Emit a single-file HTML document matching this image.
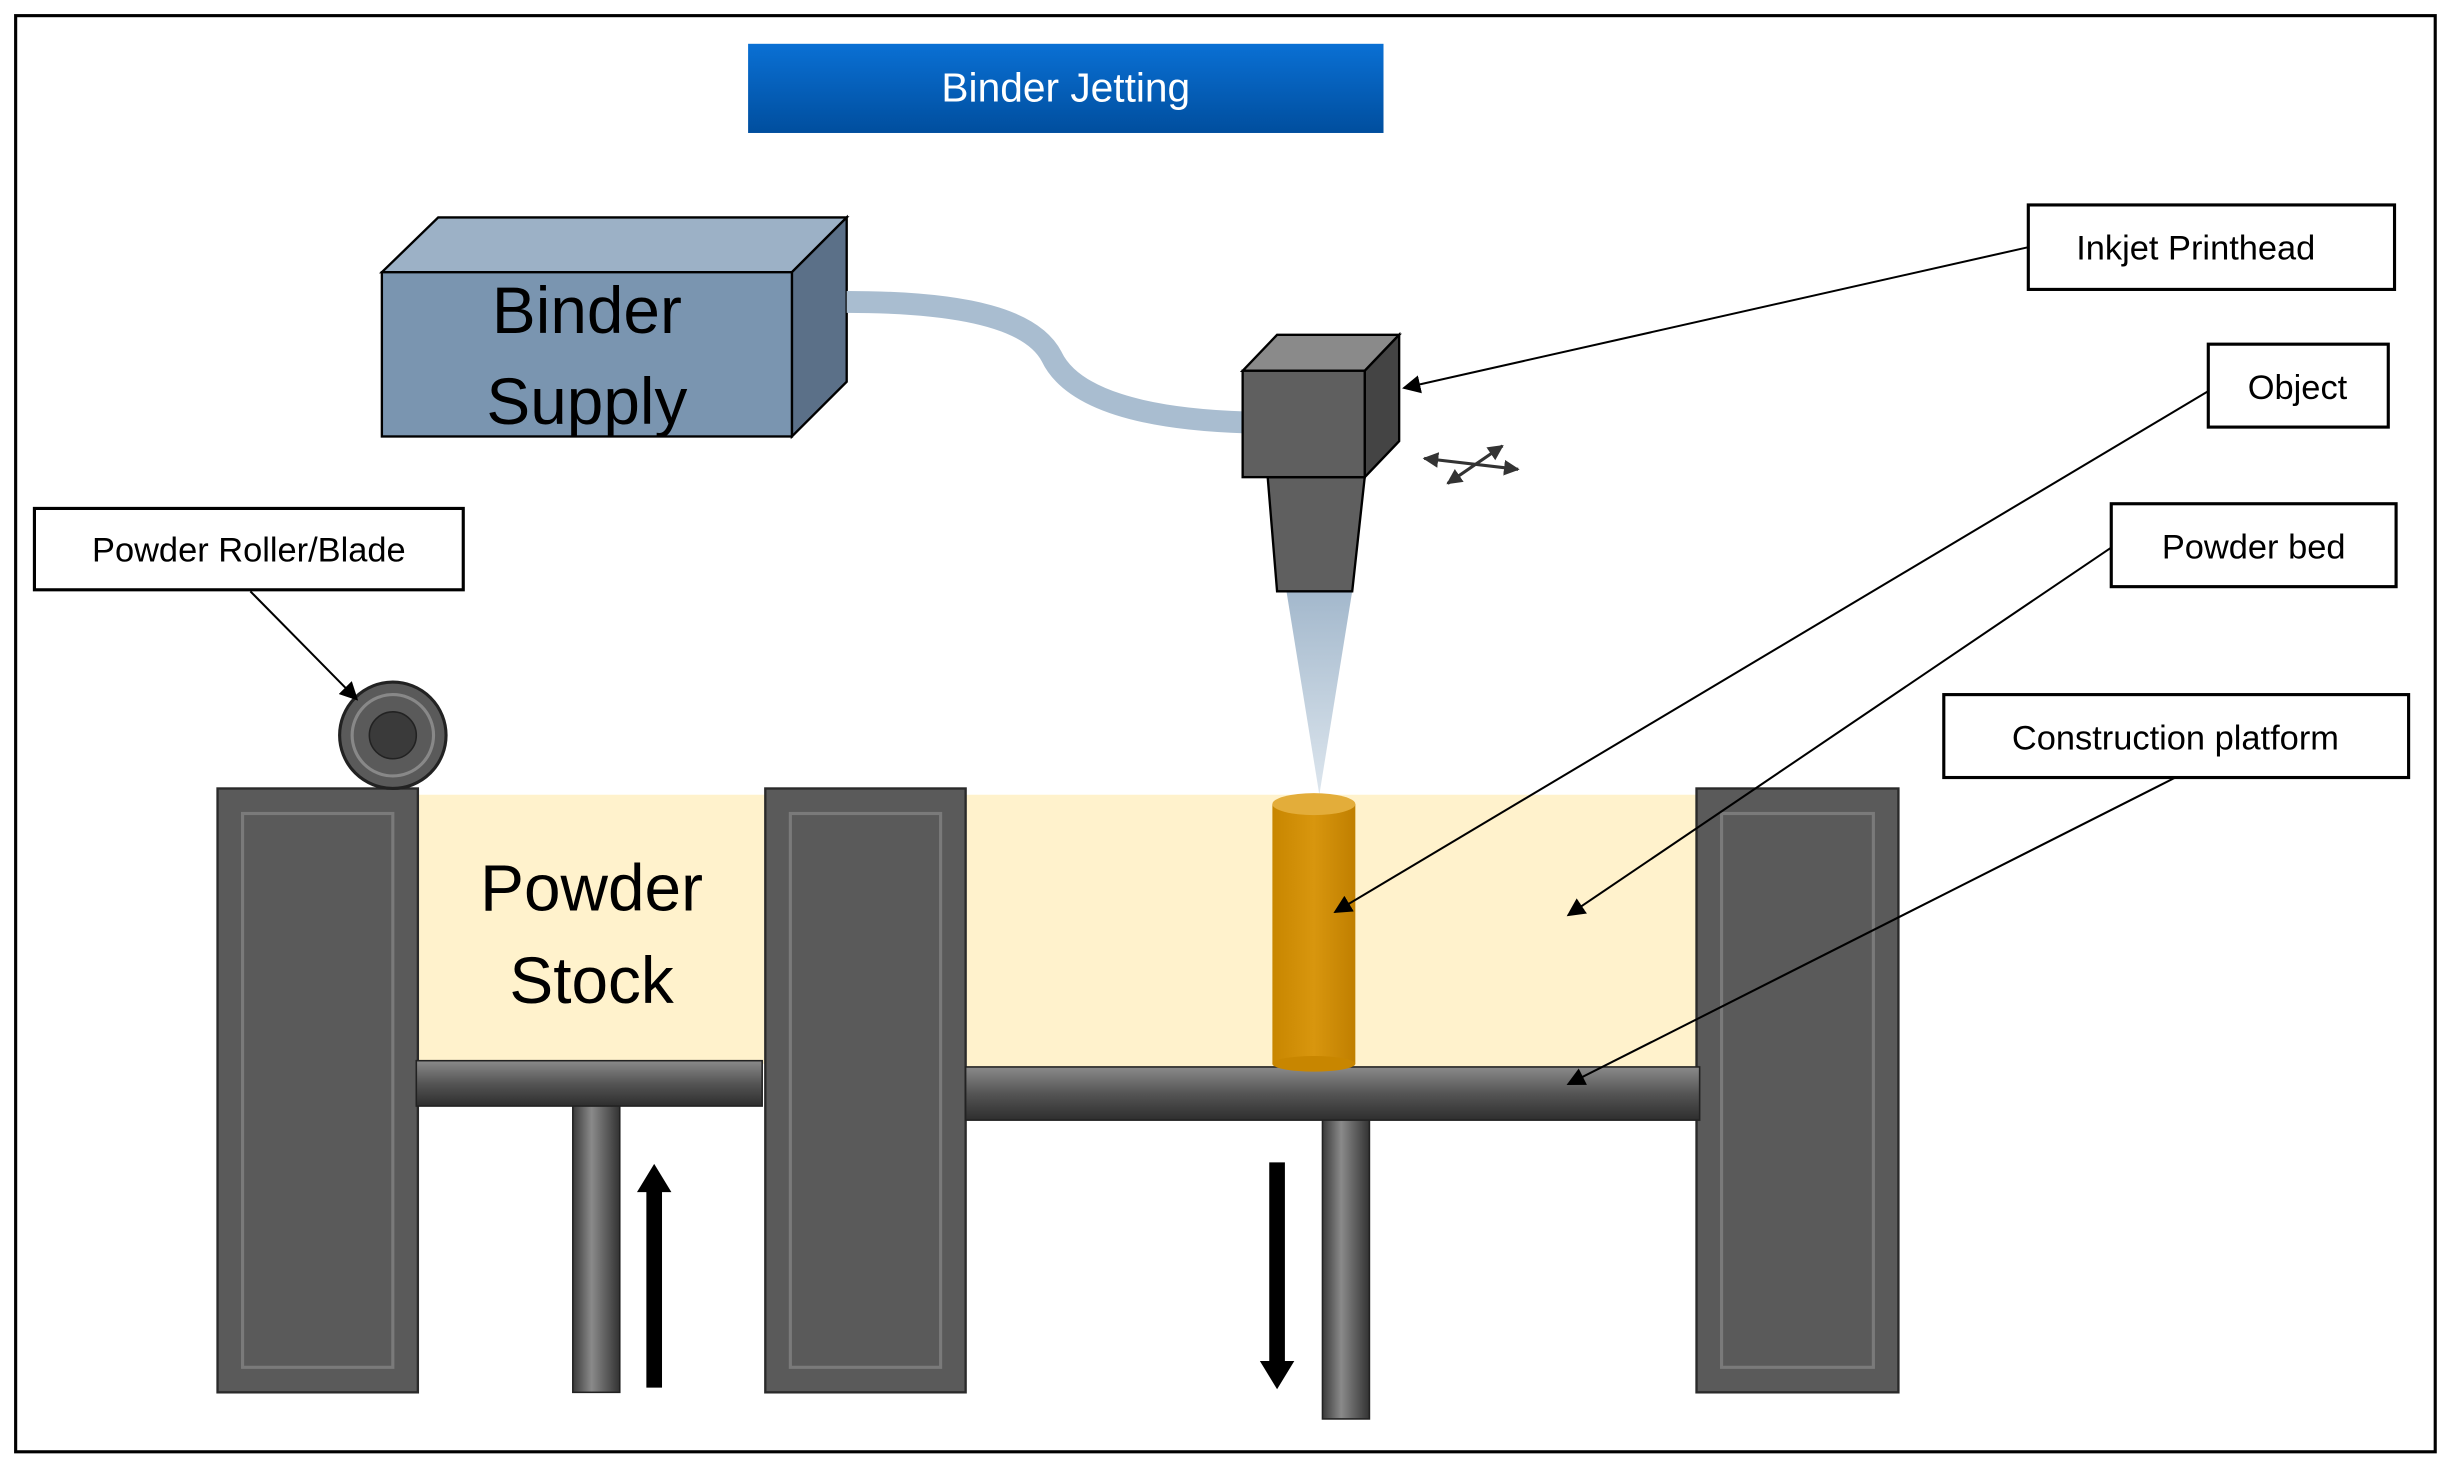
<!DOCTYPE html>
<html><head><meta charset="utf-8"><style>html,body{margin:0;padding:0;background:#fff}svg{display:block}text{font-family:"Liberation Sans","DejaVu Sans",sans-serif}</style></head>
<body>
<svg width="2454" height="1469" viewBox="0 0 1568 939" preserveAspectRatio="none" xmlns="http://www.w3.org/2000/svg">
<defs>
<linearGradient id="tb" x1="0" y1="0" x2="0" y2="1"><stop offset="0" stop-color="#0a70d4"/><stop offset="1" stop-color="#004e9e"/></linearGradient>
<linearGradient id="pl" x1="0" y1="0" x2="0" y2="1"><stop offset="0" stop-color="#8a8a8a"/><stop offset="0.5" stop-color="#555"/><stop offset="1" stop-color="#2e2e2e"/></linearGradient>
<linearGradient id="ps" x1="0" y1="0" x2="1" y2="0"><stop offset="0" stop-color="#3a3a3a"/><stop offset="0.4" stop-color="#8a8a8a"/><stop offset="1" stop-color="#333"/></linearGradient>
<linearGradient id="cone" x1="0" y1="0" x2="0" y2="1"><stop offset="0" stop-color="#a3b8cc"/><stop offset="1" stop-color="#dde6ee"/></linearGradient>
<linearGradient id="obj" x1="0" y1="0" x2="1" y2="0"><stop offset="0" stop-color="#c88600"/><stop offset="0.5" stop-color="#d8960e"/><stop offset="1" stop-color="#c07f00"/></linearGradient>
<marker id="ah" viewBox="0 0 10 10" refX="9" refY="5" markerWidth="9" markerHeight="9" orient="auto-start-reverse"><path d="M0,0 L10,5 L0,10 z" fill="#000"/></marker>
<marker id="sa" viewBox="0 0 10 10" refX="9" refY="5" markerWidth="5" markerHeight="5" orient="auto-start-reverse"><path d="M0,0 L10,5 L0,10 z" fill="#333"/></marker>
</defs>
<rect x="10" y="10" width="1546" height="918" fill="#fff" stroke="#000" stroke-width="2"/>
<rect x="478" y="28" width="406" height="57" fill="url(#tb)"/>
<text x="681" y="65" font-size="26" fill="#fff" text-anchor="middle">Binder Jetting</text>
<!-- binder supply -->
<polygon points="244,174 280,139 541,139 506,174" fill="#9cb1c6" stroke="#000" stroke-width="1.5"/>
<polygon points="506,174 541,139 541,244 506,279" fill="#5b7088" stroke="#000" stroke-width="1.5"/>
<rect x="244" y="174" width="262" height="105" fill="#7a95b0" stroke="#000" stroke-width="1.5"/>
<text x="375" y="213" font-size="42" text-anchor="middle" fill="#000">Binder</text>
<text x="375" y="271" font-size="42" text-anchor="middle" fill="#000">Supply</text>
<path d="M541,193 C620,193 660,205 672,228 C685,255 730,268 796,270" fill="none" stroke="#a9bdd0" stroke-width="14"/>
<!-- printhead -->
<polygon points="843,378 822,378 843,508 864,378" fill="url(#cone)"/>
<polygon points="810,305 872,305 864,378 816,378" fill="#5f5f5f" stroke="#000" stroke-width="1.5"/>
<polygon points="794,237 816,214 894,214 872,237" fill="#8a8a8a" stroke="#000" stroke-width="1.5"/>
<polygon points="872,237 894,214 894,282 872,305" fill="#444" stroke="#000" stroke-width="1.5"/>
<rect x="794" y="237" width="78" height="68" fill="#5f5f5f" stroke="#000" stroke-width="1.5"/>
<line x1="910" y1="293" x2="970" y2="300" stroke="#333" stroke-width="2" marker-start="url(#sa)" marker-end="url(#sa)"/>
<line x1="925" y1="309" x2="960" y2="285" stroke="#333" stroke-width="2" marker-start="url(#sa)" marker-end="url(#sa)"/>
<!-- powder -->
<rect x="266" y="508" width="224" height="172" fill="#fff2cc"/>
<rect x="617" y="508" width="468" height="175" fill="#fff2cc"/>
<!-- walls -->
<g fill="#5a5a5a" stroke="#2a2a2a" stroke-width="1.5">
<rect x="139" y="504" width="128" height="386"/>
<rect x="489" y="504" width="128" height="386"/>
<rect x="1084" y="504" width="129" height="386"/>
</g>
<g fill="none" stroke="#7a7a7a" stroke-width="2">
<rect x="155" y="520" width="96" height="354"/>
<rect x="505" y="520" width="96" height="354"/>
<rect x="1100" y="520" width="97" height="354"/>
</g>
<!-- platforms -->
<rect x="366" y="706" width="30" height="184" fill="url(#ps)" stroke="#222"/>
<rect x="266" y="678" width="221" height="29" fill="url(#pl)" stroke="#222"/>
<rect x="845" y="715" width="30" height="192" fill="url(#ps)" stroke="#222"/>
<rect x="617" y="682" width="469" height="34" fill="url(#pl)" stroke="#222"/>
<!-- object -->
<rect x="813" y="514" width="53" height="166" fill="url(#obj)"/>
<ellipse cx="839.5" cy="680" rx="26.5" ry="5" fill="#c88600"/>
<ellipse cx="839.5" cy="514" rx="26.5" ry="7" fill="#e3ad3a"/>
<!-- arrows -->
<line x1="418" y1="887" x2="418" y2="760" stroke="#000" stroke-width="10"/>
<polygon points="407,762 418,744 429,762" fill="#000"/>
<line x1="816" y1="743" x2="816" y2="872" stroke="#000" stroke-width="10"/>
<polygon points="805,870 816,888 827,870" fill="#000"/>
<!-- roller -->
<circle cx="251" cy="470" r="34" fill="#5a5a5a" stroke="#222" stroke-width="2"/>
<circle cx="251" cy="470" r="26" fill="none" stroke="#888" stroke-width="2"/>
<circle cx="251" cy="470" r="15" fill="#3a3a3a" stroke="#222"/>
<!-- labels -->
<g fill="#fff" stroke="#000" stroke-width="2">
<rect x="22" y="325" width="274" height="52"/>
<rect x="1296" y="131" width="234" height="54"/>
<rect x="1411" y="220" width="115" height="53"/>
<rect x="1349" y="322" width="182" height="53"/>
<rect x="1242" y="444" width="297" height="53"/>
</g>
<g font-size="22" fill="#000" text-anchor="middle">
<text x="159" y="359">Powder Roller/Blade</text>
<text x="1403" y="166">Inkjet Printhead</text>
<text x="1468" y="255">Object</text>
<text x="1440" y="357">Powder bed</text>
<text x="1390" y="479">Construction platform</text>
</g>
<g stroke="#000" stroke-width="1.3" fill="none">
<line x1="160" y1="378" x2="228" y2="447" marker-end="url(#ah)"/>
<line x1="1296" y1="158" x2="897" y2="248" marker-end="url(#ah)"/>
<line x1="1411" y1="250" x2="853" y2="583" marker-end="url(#ah)"/>
<line x1="1349" y1="350" x2="1002" y2="585" marker-end="url(#ah)"/>
<line x1="1390" y1="497" x2="1002" y2="693" marker-end="url(#ah)"/>
</g>
<text x="378" y="582" font-size="42" text-anchor="middle" fill="#000">Powder</text>
<text x="378" y="641" font-size="42" text-anchor="middle" fill="#000">Stock</text>
</svg>
</body></html>
